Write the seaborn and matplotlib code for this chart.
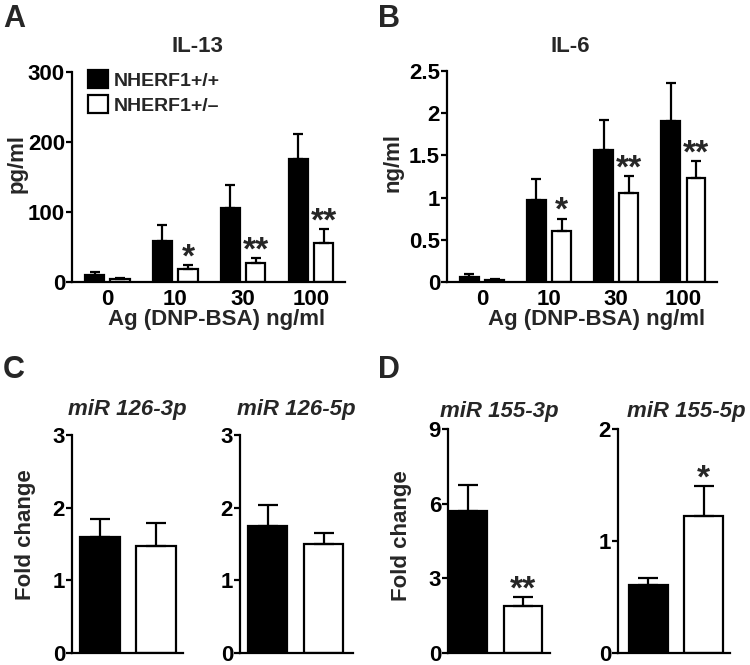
import matplotlib
matplotlib.use("Agg")
import matplotlib.pyplot as plt
from matplotlib.patches import Patch
import seaborn as sns
import pandas as pd
import numpy as np

# ---------------- data ----------------
doses = ["0", "10", "30", "100"]
genotypes = ["NHERF1+/+", "NHERF1+/–"]

il13_wt = [10, 58, 105, 176]
il13_wt_sem = [4, 24, 33, 36]
il13_het = [4, 18, 27, 55]
il13_het_sem = [2, 6, 7, 20]
il13_sig = ["", "*", "**", "**"]

il6_wt = [0.065, 0.97, 1.56, 1.91]
il6_wt_sem = [0.025, 0.25, 0.36, 0.45]
il6_het = [0.025, 0.61, 1.05, 1.23]
il6_het_sem = [0.01, 0.14, 0.20, 0.20]
il6_sig = ["", "*", "**", "**"]

mir126_3p = [1.60, 1.475]
mir126_3p_sem = [0.24, 0.315]
mir126_5p = [1.75, 1.50]
mir126_5p_sem = [0.28, 0.15]
mir155_3p = [5.71, 1.88]
mir155_3p_sem = [1.03, 0.35]
mir155_3p_sig = ["", "**"]
mir155_5p = [0.61, 1.22]
mir155_5p_sem = [0.06, 0.27]
mir155_5p_sig = ["", "*"]

# ---------------- style ----------------
sns.set_style("ticks")
plt.rcParams["font.family"] = ["Liberation Sans", "DejaVu Sans"]
plt.rcParams["font.weight"] = "bold"
plt.rcParams["axes.labelweight"] = "bold"
plt.rcParams["axes.linewidth"] = 1.6
plt.rcParams["ytick.major.width"] = 1.6
plt.rcParams["ytick.major.size"] = 4
plt.rcParams["ytick.labelsize"] = 16
plt.rcParams["xtick.labelsize"] = 16
plt.rcParams["ytick.color"] = "black"
plt.rcParams["xtick.color"] = "black"
plt.rcParams["axes.edgecolor"] = "black"

W, H = 750, 665
fig = plt.figure(figsize=(W / 100, H / 100), dpi=100)
palette = {genotypes[0]: "black", genotypes[1]: "white"}


def add_ax(l, t, r, b):
    return fig.add_axes([l / W, 1 - b / H, (r - l) / W, (b - t) / H])


def ftext(x, y, s, **kw):
    fig.text(x / W, 1 - y / H, s, **kw)


def style_ax(ax, ylim, yticks, yticklabels=None):
    sns.despine(ax=ax)
    ax.set_ylim(*ylim)
    ax.set_yticks(yticks)
    if yticklabels is not None:
        ax.set_yticklabels(yticklabels)
    ax.set_xlabel("")
    ax.set_ylabel("")
    ax.tick_params(axis="x", length=0, pad=5)
    ax.tick_params(axis="y", pad=1)
    for lab in ax.get_yticklabels() + ax.get_xticklabels():
        lab.set_fontweight("bold")


def sorted_patches(ax):
    ps = [p for c in ax.containers for p in c]
    return sorted(ps, key=lambda p: p.get_x())


def add_errors(ax, sems, sigs, capsize, star_size=24, star_off=-6):
    for p, e, s in zip(sorted_patches(ax), sems, sigs):
        x = p.get_x() + p.get_width() / 2
        h = p.get_height()
        ax.errorbar([x], [h], yerr=[[0], [e]], fmt="none", ecolor="black",
                    elinewidth=1.6, capsize=capsize, capthick=1.6, zorder=1)
        if s:
            ax.annotate(s, xy=(x, h + e), xytext=(0, star_off),
                        textcoords="offset points", ha="center", va="bottom",
                        fontsize=star_size, fontweight="bold")


def grouped_panel(ax, wt, wt_sem, het, het_sem, sig):
    df = pd.DataFrame({
        "dose": doses * 2,
        "genotype": [genotypes[0]] * 4 + [genotypes[1]] * 4,
        "value": wt + het,
    })
    sns.barplot(data=df, x="dose", y="value", hue="genotype", order=doses,
                hue_order=genotypes, palette=palette, edgecolor="black",
                linewidth=1.6, width=0.75, gap=0.25, errorbar=None,
                legend=False, ax=ax)
    sems, sigs = [], []
    for i in range(4):
        sems += [wt_sem[i], het_sem[i]]
        sigs += ["", sig[i]]
    add_errors(ax, sems, sigs, capsize=3.6)
    ax.set_xlim(-0.52, 3.5)


def pair_panel(ax, vals, sems, sigs, xlim):
    df = pd.DataFrame({"genotype": genotypes, "value": vals})
    sns.barplot(data=df, x="genotype", y="value", hue="genotype",
                order=genotypes, hue_order=genotypes, palette=palette,
                edgecolor="black", linewidth=1.6, width=0.7, errorbar=None,
                legend=False, ax=ax)
    add_errors(ax, sems, sigs, capsize=7.5)
    ax.set_xlim(*xlim)
    ax.set_xticks([])


# ---------------- panel A ----------------
axA = add_ax(72, 72, 345, 282)
grouped_panel(axA, il13_wt, il13_wt_sem, il13_het, il13_het_sem, il13_sig)
style_ax(axA, (0, 300), [0, 100, 200, 300])
handles = [Patch(facecolor="black", edgecolor="black", linewidth=1.6),
           Patch(facecolor="white", edgecolor="black", linewidth=1.6)]
axA.legend(handles, genotypes, loc="upper left", bbox_to_anchor=(0.058, 1.01),
           frameon=False, borderpad=0, borderaxespad=0, handlelength=1.05,
           handleheight=1.05, handletextpad=0.3, labelspacing=0.3,
           prop={"size": 14, "weight": "bold"})

# ---------------- panel B ----------------
axB = add_ax(447, 71, 717, 282)
grouped_panel(axB, il6_wt, il6_wt_sem, il6_het, il6_het_sem, il6_sig)
style_ax(axB, (0, 2.5), [0, 0.5, 1, 1.5, 2, 2.5],
         ["0", "0.5", "1", "1.5", "2", "2.5"])

# ---------------- panel C ----------------
axC1 = add_ax(72, 435, 183, 653)
pair_panel(axC1, mir126_3p, mir126_3p_sem, ["", ""], (-0.5, 1.48))
style_ax(axC1, (0, 3), [0, 1, 2, 3])
axC2 = add_ax(240, 435, 353, 653)
pair_panel(axC2, mir126_5p, mir126_5p_sem, ["", ""], (-0.49, 1.52))
style_ax(axC2, (0, 3), [0, 1, 2, 3])

# ---------------- panel D ----------------
axD1 = add_ax(448, 429, 550, 653)
pair_panel(axD1, mir155_3p, mir155_3p_sem, mir155_3p_sig, (-0.37, 1.49))
style_ax(axD1, (0, 9), [0, 3, 6, 9])
axD2 = add_ax(618, 429, 730, 653)
pair_panel(axD2, mir155_5p, mir155_5p_sem, mir155_5p_sig, (-0.55, 1.48))
style_ax(axD2, (0, 2), [0, 1, 2])

# ---------------- texts ----------------
big = dict(fontsize=22, fontweight="bold", ha="left", va="center")
ftext(3, 19, "A", **big)
ftext(378, 19, "B", **big)
ftext(3, 370, "C", **big)
ftext(378, 370, "D", **big)

ttl = dict(fontsize=16, fontweight="bold", ha="center", va="center")
ftext(197, 47, "IL-13", **ttl)
ftext(570, 47, "IL-6", **ttl)
ital = dict(fontsize=16, fontweight="bold", style="italic", ha="center", va="center")
ftext(127, 410, "miR 126-3p", **ital)
ftext(296, 410, "miR 126-5p", **ital)
ftext(499, 411, "miR 155-3p", **ital)
ftext(686, 411, "miR 155-5p", **ital)

ylab = dict(fontsize=16, fontweight="bold", rotation=90, ha="center", va="center")
ftext(17, 164, "pg/ml", **ylab)
ftext(393, 162, "ng/ml", **ylab)
ftext(26, 535, "Fold change", **ylab)
ftext(402, 536, "Fold change", **ylab)

xl = dict(fontsize=16, fontweight="bold", ha="center", va="center")
ftext(217, 319, "Ag (DNP-BSA) ng/ml", **xl)
ftext(597, 319, "Ag (DNP-BSA) ng/ml", **xl)

fig.savefig("out.png", dpi=100)
